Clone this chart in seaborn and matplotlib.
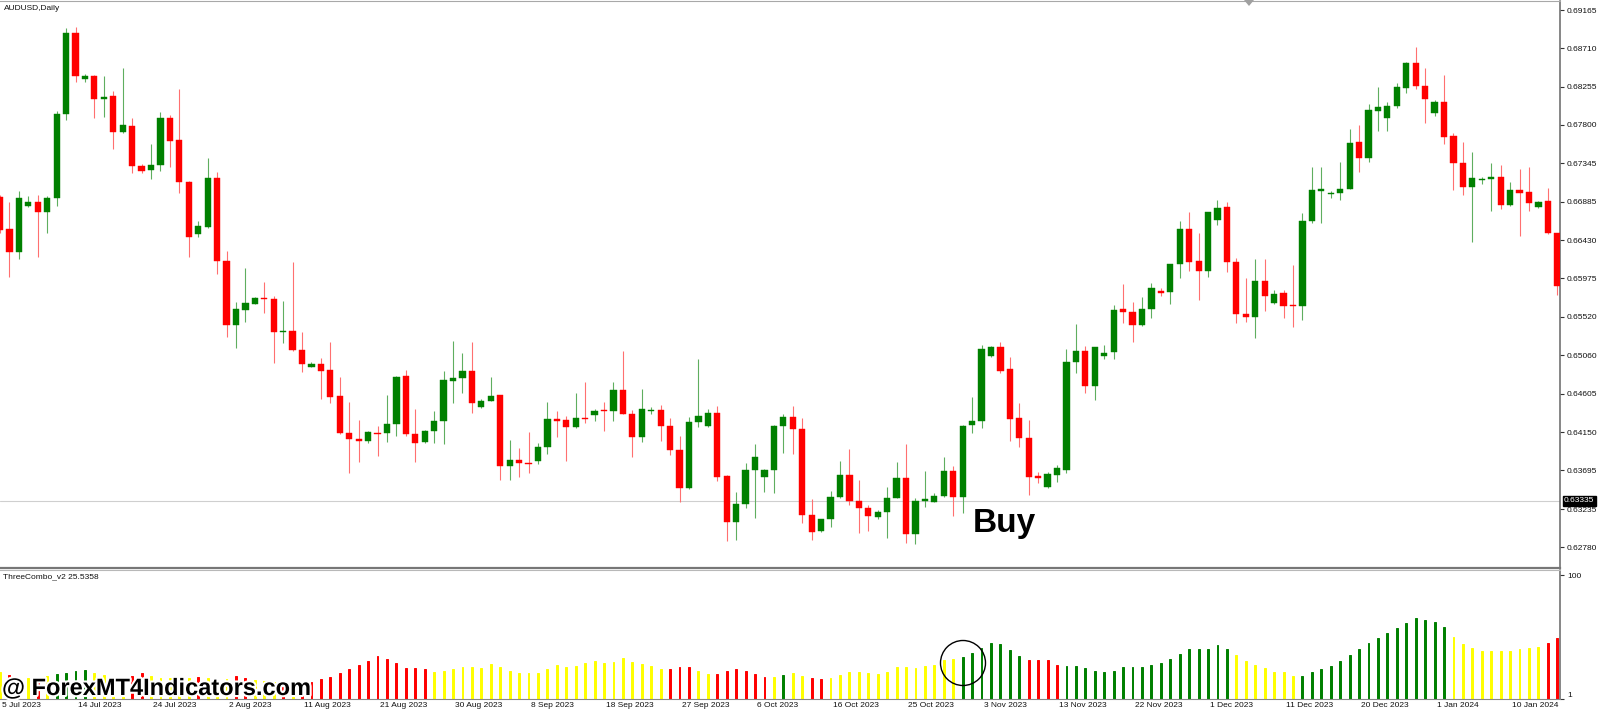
import numpy as np
import pandas as pd
import matplotlib
matplotlib.use("Agg")
import matplotlib.pyplot as plt
import matplotlib.transforms as mtransforms
import matplotlib.patheffects as pe
from matplotlib.patches import Ellipse, Polygon
import seaborn as sns

# ----------------------------
# data
# ----------------------------
opens = [
    0.66947, 0.66558, 0.66285, 0.66836, 0.66887, 0.66768, 0.66935, 0.67929, 0.68896, 0.68341,
    0.68381, 0.68103, 0.68143, 0.67712, 0.67787, 0.67311, 0.67264, 0.67323, 0.67886, 0.67620,
    0.67125, 0.66499, 0.66590, 0.67169, 0.66186, 0.65418, 0.65604, 0.65675, 0.65746, 0.65727,
    0.65335, 0.65355, 0.65125, 0.64927, 0.64959, 0.64888, 0.64579, 0.64143, 0.64064, 0.64048,
    0.64143, 0.64135, 0.64246, 0.64817, 0.64127, 0.64032, 0.64163, 0.64286, 0.64761, 0.64797,
    0.64876, 0.64452, 0.64523, 0.64587, 0.63747, 0.63819, 0.63787, 0.63811, 0.63969, 0.64302,
    0.64294, 0.64207, 0.64321, 0.64349, 0.64409, 0.64401, 0.64650, 0.64361, 0.64096, 0.64401,
    0.64416, 0.64226, 0.63937, 0.63490, 0.64266, 0.64226, 0.64381, 0.63628, 0.63086, 0.63296,
    0.63700, 0.63621, 0.63700, 0.64222, 0.64325, 0.64187, 0.63165, 0.62975, 0.63114, 0.63375,
    0.63640, 0.63335, 0.63252, 0.63138, 0.63205, 0.63371, 0.63609, 0.62939, 0.63335, 0.63323,
    0.63391, 0.63688, 0.63375, 0.64234, 0.64286, 0.65054, 0.65157, 0.64896, 0.64314, 0.64076,
    0.63628, 0.63502, 0.63640, 0.63700, 0.64987, 0.65117, 0.64698, 0.65054, 0.65106, 0.65612,
    0.65581, 0.65422, 0.65608, 0.65822, 0.65818, 0.66143, 0.66563, 0.66183, 0.66068, 0.66670,
    0.66828, 0.66175, 0.65549, 0.65517, 0.65945, 0.65680, 0.65799, 0.65656, 0.65653, 0.66659,
    0.67019, 0.66979, 0.66987, 0.67043, 0.67593, 0.67403, 0.67969, 0.67878, 0.68025, 0.68243,
    0.68532, 0.68262, 0.67938, 0.68072, 0.67669, 0.67352, 0.67067, 0.67142, 0.67162, 0.67177,
    0.66853, 0.67027, 0.67000, 0.66821, 0.66900, 0.66512,
]
highs = [
    0.66967, 0.66887, 0.67014, 0.66955, 0.66967, 0.66955, 0.67969, 0.68947, 0.68959, 0.68404,
    0.68392, 0.68381, 0.68202, 0.68472, 0.67882, 0.67335, 0.67569, 0.67953, 0.67917, 0.68222,
    0.67129, 0.66657, 0.67402, 0.67244, 0.66305, 0.65695, 0.66099, 0.65758, 0.65929, 0.65767,
    0.65711, 0.66171, 0.65343, 0.64987, 0.65034, 0.65224, 0.64809, 0.64512, 0.64294, 0.64167,
    0.64222, 0.64587, 0.64820, 0.64888, 0.64420, 0.64175, 0.64401, 0.64876, 0.65232, 0.65086,
    0.65224, 0.64543, 0.64809, 0.64591, 0.64056, 0.63957, 0.64151, 0.64025, 0.64504, 0.64401,
    0.64345, 0.64611, 0.64741, 0.64420, 0.64504, 0.64745, 0.65117, 0.64413, 0.64662, 0.64452,
    0.64472, 0.64314, 0.64104, 0.64325, 0.65014, 0.64424, 0.64460, 0.63640, 0.63435, 0.63779,
    0.64009, 0.63708, 0.64238, 0.64365, 0.64460, 0.64321, 0.63351, 0.63118, 0.63454, 0.63807,
    0.63945, 0.63581, 0.63284, 0.63225, 0.63502, 0.63799, 0.64005, 0.63363, 0.63688, 0.63431,
    0.63850, 0.63747, 0.64234, 0.64563, 0.65185, 0.65173, 0.65224, 0.65038, 0.64500, 0.64294,
    0.63672, 0.63680, 0.63760, 0.65133, 0.65434, 0.65177, 0.65165, 0.65185, 0.65660, 0.65906,
    0.65700, 0.65751, 0.65917, 0.65858, 0.66143, 0.66662, 0.66761, 0.66511, 0.66769, 0.66907,
    0.66888, 0.66214, 0.65977, 0.66206, 0.66206, 0.65838, 0.65838, 0.66135, 0.66750, 0.67296,
    0.67296, 0.67019, 0.67356, 0.67748, 0.67799, 0.68049, 0.68255, 0.68076, 0.68294, 0.68552,
    0.68722, 0.68472, 0.68096, 0.68393, 0.67708, 0.67601, 0.67482, 0.67177, 0.67344, 0.67320,
    0.67126, 0.67273, 0.67296, 0.66900, 0.67047, 0.66520,
]
lows = [
    0.66511, 0.65996, 0.66202, 0.66828, 0.66234, 0.66511, 0.66836, 0.67858, 0.68305, 0.68305,
    0.67878, 0.67890, 0.67509, 0.67708, 0.67232, 0.67232, 0.67157, 0.67256, 0.67303, 0.66987,
    0.66230, 0.66471, 0.66578, 0.66027, 0.65275, 0.65145, 0.65457, 0.65671, 0.65560, 0.64975,
    0.65205, 0.65115, 0.64860, 0.64919, 0.64539, 0.64500, 0.64125, 0.63660, 0.63799, 0.64017,
    0.63870, 0.64036, 0.64108, 0.64108, 0.63799, 0.64024, 0.64024, 0.64009, 0.64492, 0.64618,
    0.64381, 0.64432, 0.64519, 0.63581, 0.63581, 0.63621, 0.63660, 0.63767, 0.63890, 0.64088,
    0.63811, 0.64195, 0.64254, 0.64286, 0.64167, 0.64282, 0.64361, 0.63858, 0.64036, 0.64361,
    0.64048, 0.63878, 0.63316, 0.63474, 0.64215, 0.64215, 0.63569, 0.62860, 0.62868, 0.63244,
    0.63126, 0.63435, 0.63431, 0.63906, 0.63886, 0.63074, 0.62868, 0.62967, 0.63027, 0.63371,
    0.63284, 0.62955, 0.62975, 0.63118, 0.62888, 0.63363, 0.62837, 0.62821, 0.63256, 0.63316,
    0.63383, 0.63153, 0.63185, 0.64135, 0.64203, 0.65046, 0.64856, 0.64044, 0.63969, 0.63403,
    0.63549, 0.63490, 0.63560, 0.63660, 0.64848, 0.64611, 0.64531, 0.65015, 0.65015, 0.65442,
    0.65224, 0.65410, 0.65502, 0.65767, 0.65672, 0.65977, 0.66068, 0.65719, 0.65997, 0.66610,
    0.66056, 0.65442, 0.65462, 0.65264, 0.65589, 0.65672, 0.65502, 0.65403, 0.65480, 0.66631,
    0.66639, 0.66936, 0.66908, 0.67039, 0.67245, 0.67364, 0.67732, 0.67732, 0.67997, 0.68183,
    0.68227, 0.67819, 0.67906, 0.67570, 0.67027, 0.66968, 0.66413, 0.67098, 0.66781, 0.66800,
    0.66837, 0.66480, 0.66781, 0.66809, 0.66504, 0.65779,
]
closes = [
    0.66551, 0.66285, 0.66935, 0.66887, 0.66768, 0.66935, 0.67929, 0.68888, 0.68385, 0.68381,
    0.68103, 0.68135, 0.67712, 0.67795, 0.67311, 0.67256, 0.67323, 0.67878, 0.67612, 0.67121,
    0.66471, 0.66598, 0.67169, 0.66186, 0.65418, 0.65612, 0.65687, 0.65746, 0.65727, 0.65339,
    0.65355, 0.65125, 0.64959, 0.64959, 0.64880, 0.64571, 0.64135, 0.64064, 0.64040, 0.64147,
    0.64131, 0.64246, 0.64809, 0.64127, 0.64024, 0.64163, 0.64286, 0.64769, 0.64797, 0.64872,
    0.64492, 0.64519, 0.64579, 0.63747, 0.63819, 0.63787, 0.63771, 0.63977, 0.64302, 0.64286,
    0.64207, 0.64314, 0.64310, 0.64401, 0.64397, 0.64650, 0.64365, 0.64096, 0.64420, 0.64416,
    0.64226, 0.63937, 0.63490, 0.64270, 0.64345, 0.64373, 0.63621, 0.63086, 0.63296, 0.63700,
    0.63858, 0.63700, 0.64222, 0.64325, 0.64183, 0.63165, 0.62967, 0.63118, 0.63383, 0.63640,
    0.63335, 0.63252, 0.63153, 0.63205, 0.63371, 0.63609, 0.62939, 0.63335, 0.63351, 0.63391,
    0.63688, 0.63375, 0.64226, 0.64286, 0.65137, 0.65157, 0.64880, 0.64302, 0.64076, 0.63621,
    0.63609, 0.63652, 0.63720, 0.64987, 0.65117, 0.64698, 0.65165, 0.65094, 0.65601, 0.65581,
    0.65422, 0.65608, 0.65858, 0.65807, 0.66143, 0.66563, 0.66175, 0.66068, 0.66769, 0.66808,
    0.66175, 0.65549, 0.65517, 0.65945, 0.65771, 0.65791, 0.65652, 0.65644, 0.66662, 0.67027,
    0.67035, 0.66995, 0.67043, 0.67589, 0.67403, 0.67977, 0.68009, 0.68029, 0.68247, 0.68532,
    0.68262, 0.68112, 0.68076, 0.67661, 0.67352, 0.67067, 0.67166, 0.67158, 0.67177, 0.66853,
    0.67027, 0.66987, 0.66869, 0.66888, 0.66512, 0.65886,
]

# ThreeCombo_v2 histogram (value, colour code Y/R/G)
combo_values = [
    22.7, 20.1, 17.9, 17.9, 17.9, 19.6, 20.9, 21.5, 23.3, 24.1,
    22.0, 20.1, 18.8, 17.9, 19.6, 21.7, 19.6, 17.9, 17.4, 16.9,
    17.9, 18.8, 17.4, 16.1, 17.2, 19.3, 17.9, 16.1, 15.3, 14.8,
    15.3, 14.3, 13.4, 14.3, 16.9, 18.5, 21.5, 24.9, 28.4, 31.3,
    35.3, 33.2, 29.7, 26.0, 25.7, 24.9, 22.7, 23.3, 24.9, 26.8,
    26.5, 26.0, 29.2, 26.5, 23.3, 22.1, 22.0, 22.0, 24.9, 28.1,
    26.8, 27.5, 29.4, 31.3, 29.9, 30.5, 33.4, 30.2, 28.9, 27.3,
    24.9, 24.6, 26.5, 26.5, 23.6, 21.2, 20.9, 23.3, 24.9, 23.6,
    20.9, 18.5, 18.5, 20.1, 21.5, 19.1, 17.9, 16.9, 17.4, 20.1,
    22.5, 22.2, 21.7, 21.2, 22.5, 26.5, 26.5, 25.4, 27.3, 28.4,
    32.0, 32.6, 34.4, 37.7, 41.9, 45.4, 44.6, 40.1, 35.6, 32.0,
    32.0, 31.8, 28.1, 27.0, 27.3, 25.4, 23.6, 22.2, 23.6, 26.5,
    26.5, 26.5, 28.4, 29.4, 32.6, 36.8, 40.6, 40.6, 41.3, 44.0,
    40.9, 36.4, 31.6, 28.4, 25.4, 22.5, 22.2, 19.3, 19.3, 22.7,
    24.9, 27.3, 31.6, 36.4, 40.6, 45.4, 49.7, 53.3, 57.7, 61.4,
    65.6, 63.8, 62.2, 58.1, 50.8, 44.6, 41.6, 39.4, 39.4, 39.4,
    39.4, 40.7, 42.0, 42.8, 45.6, 50.1,
]
combo_signal = list(
    "YRYYRYGGGG" "YYYYRRYYYY" "YRYYYRRYYY" "RYRRRRRRRR"
    "RRRRRRYYYY" "YYYYYYYYYY" "YYYYYYYYYY" "YRRRYYRRRR"
    "RRYGYYRRYY" "YYYYYYYYYY" "YYGGGGGGGR" "RRRGGGGGGG"
    "GGGGGGGGGG" "GYYYYYYYGG" "GGGGGGGGGG" "GGGGYYYYYY"
    "YYYYRR"
)

date_labels = [
    "5 Jul 2023", "14 Jul 2023", "24 Jul 2023", "2 Aug 2023", "11 Aug 2023",
    "21 Aug 2023", "30 Aug 2023", "8 Sep 2023", "18 Sep 2023", "27 Sep 2023",
    "6 Oct 2023", "16 Oct 2023", "25 Oct 2023", "3 Nov 2023", "13 Nov 2023",
    "22 Nov 2023", "1 Dec 2023", "11 Dec 2023", "20 Dec 2023", "1 Jan 2024",
    "10 Jan 2024",
]
date_label_bars = list(range(0, 161, 8))

price_ticks = [
    0.69165, 0.68710, 0.68255, 0.67800, 0.67345, 0.66885, 0.66430, 0.65975,
    0.65520, 0.65060, 0.64605, 0.64150, 0.63695, 0.63235, 0.62780,
]
last_price = 0.63335
buy_bar, buy_price = 103.1, 0.62966

# ----------------------------
# style
# ----------------------------
sns.set_style("white")
plt.rcParams["font.family"] = ["Liberation Sans", "DejaVu Sans"]

GREEN = "#008000"
RED = "#ff0000"
YELLOW = "#ffff00"
W, H = 1600, 713

fig = plt.figure(figsize=(W / 100, H / 100), dpi=100)
ax = fig.add_axes([0, 1 - 568 / H, 1560 / W, 567 / H])
ax2 = fig.add_axes([0, 1 - 699 / H, 1560 / W, 129 / H], sharex=ax)

# ----------------------------
# candles
# ----------------------------
o = np.array(opens)
h = np.array(highs)
l = np.array(lows)
c = np.array(closes)
bars = np.arange(len(o))
up = c >= o

wick_cols = np.where(up, "#5fae5f", "#ff7070")
body_cols = np.where(up, GREEN, RED)
ax.vlines(bars, l, h, colors=wick_cols, linewidth=0.8, zorder=2)

body_h = np.maximum(np.abs(c - o), 0.00013)
body_bottom = (o + c) / 2 - body_h / 2
ax.bar(bars, body_h, bottom=body_bottom, width=0.66, color=body_cols,
       edgecolor=body_cols, linewidth=0.3, zorder=3)

ax.axhline(last_price, color="#cfcfcf", linewidth=0.8, zorder=1)

ax.set_xlim(0.21, 165.29)
ax.set_ylim(0.62534, 0.69272)

ax.yaxis.tick_right()
ax.set_yticks(price_ticks)
ax.set_yticklabels([f"{t:.5f}" for t in price_ticks])
ax.tick_params(axis="y", length=3, width=0.8, pad=2, labelsize=6,
               colors="#333333", labelcolor="#111111")
ax.tick_params(axis="x", bottom=False, labelbottom=False)

ax.spines["left"].set_visible(False)
ax.spines["top"].set_color("#a8a8a8")
ax.spines["top"].set_linewidth(0.8)
ax.spines["right"].set_color("#666666")
ax.spines["right"].set_linewidth(1.1)
ax.spines["bottom"].set_color("#777777")
ax.spines["bottom"].set_linewidth(1.6)

trans = mtransforms.blended_transform_factory(ax.transAxes, ax.transData)
ax.text(1 + 4 / 1560, last_price, f"{last_price:.5f}", transform=trans,
        ha="left", va="center", fontsize=6, color="white", clip_on=False,
        bbox=dict(boxstyle="square,pad=0.18", fc="black", ec="black"), zorder=5)

ax.text(buy_bar, buy_price, "Buy", fontsize=24, fontweight="bold",
        ha="left", va="baseline", color="black", zorder=6)

# ----------------------------
# ThreeCombo_v2 histogram
# ----------------------------
combo = pd.DataFrame({"bar": bars, "value": combo_values, "signal": combo_signal})
sns.barplot(data=combo, x="bar", y="value", hue="signal",
            palette={"Y": YELLOW, "R": RED, "G": GREEN},
            native_scale=True, dodge=False, width=0.2, saturation=1,
            errorbar=None, legend=False, ax=ax2)
# give the thin bars a solid 2px look
for patch in ax2.patches:
    patch.set_edgecolor(patch.get_facecolor())
    patch.set_linewidth(0.7)

ax2.set_xlabel("")
ax2.set_ylabel("")
ax2.set_xlim(0.21, 165.29)
ax2.set_ylim(1, 104)

ax2.yaxis.tick_right()
ax2.set_yticks([1, 100])
ax2.set_yticklabels(["1", "100"])
ax2.tick_params(axis="y", length=3, width=0.8, pad=2, labelsize=6,
                colors="#333333", labelcolor="#111111")
ax2.get_yticklabels()[0].set_va("bottom")

ax2.set_xticks(date_label_bars)
ax2.tick_params(axis="x", length=3, width=0.8, colors="#555555",
                labelbottom=False)
xtrans = mtransforms.blended_transform_factory(ax2.transData, ax2.transAxes)
for b, lab in zip(date_label_bars, date_labels):
    ax2.text(b + 0.25, -3 / 129, lab, transform=xtrans, ha="left", va="top",
             fontsize=6, color="#111111", clip_on=False)

ax2.spines["left"].set_visible(False)
ax2.spines["top"].set_color("#b8b8b8")
ax2.spines["top"].set_linewidth(0.8)
ax2.spines["right"].set_color("#666666")
ax2.spines["right"].set_linewidth(1.1)
ax2.spines["bottom"].set_color("#888888")
ax2.spines["bottom"].set_linewidth(0.8)

# ----------------------------
# labels and overlays
# ----------------------------
fig.text(4 / W, 1 - 8 / H, "AUDUSD,Daily", fontsize=6, va="center", color="#111111")
fig.text(3 / W, 1 - 577 / H, "ThreeCombo_v2 25.5358", fontsize=6, va="center",
         color="#111111")
fig.add_artist(Polygon([[1244 / W, 1], [1254 / W, 1], [1249 / W, 1 - 6 / H]],
                       closed=True, transform=fig.transFigure,
                       fc="#a0a0a0", ec="none"))
fig.add_artist(Ellipse((963 / W, 1 - 663 / H), 45 / W, 45 / H,
                       transform=fig.transFigure, fill=False,
                       ec="black", lw=1.0))
fig.text(2 / W, 1 - 695 / H, "@ ForexMT4Indicators.com", fontsize=17,
         fontweight="bold", va="baseline", ha="left", color="black",
         path_effects=[pe.withStroke(linewidth=3, foreground="white")],
         zorder=10)

fig.savefig("out.png", dpi=100)
plt.close(fig)
